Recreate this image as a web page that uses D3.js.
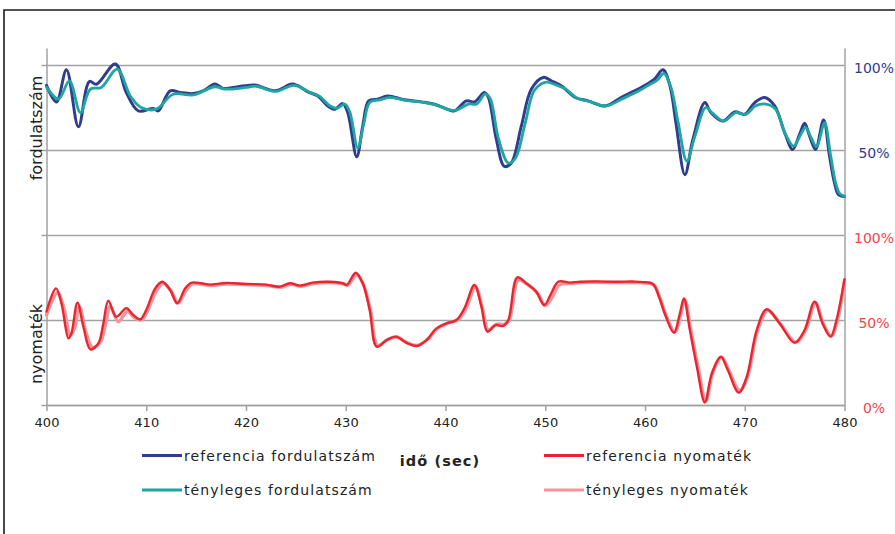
<!DOCTYPE html>
<html><head><meta charset="utf-8">
<script src="https://cdn.jsdelivr.net/npm/d3@7"></script>
<style>body{margin:0;background:#fff}svg{display:block}</style></head>
<body><svg id="c" width="895" height="534"></svg>
<script>
// ---------- data ----------
const xTicks = [400, 410, 420, 430, 440, 450, 460, 470, 480];
const speedTickValues = [100, 50];
const speedTickLabels = ["100%", "50%"];
const torqueTickValues = [100, 50, 0];
const torqueTickLabels = ["100%", "50%", "0%"];

const refSpeedT = [400,401.0,402.0,403.2,404.3,405.0,406.9,408.0,409.2,410.7,411.2,412.4,413.4,414.7,415.7,416.9,417.7,418.7,419.9,420.9,422.9,424.6,425.2,426.2,427.2,428.2,428.9,429.7,430.2,431.1,431.7,432.3,433.2,434.2,435.9,437.6,438.9,440.4,440.9,442.1,442.9,443.9,444.3,445.1,445.9,446.6,447.6,448.6,449.8,450.6,451.6,453.0,454.3,456.0,457.6,459.3,460.0,461.0,461.8,462.5,463.1,464.0,464.8,466.0,466.6,467.8,469.0,470.0,471.0,472.0,473.0,474.0,474.8,475.5,476.0,476.5,477.1,477.9,478.5,479.0,479.4,480.0];
const refSpeedV = [88,78.3,97.2,63.7,90.3,88.7,100.6,83.8,73,74.4,73,84.8,83.8,83.2,84.8,88.8,86.2,86.8,87.8,88.2,84.8,88.8,87.8,84.2,81.8,75.9,74,77.3,72,46,64,78.9,79.9,81.8,79.5,78.3,76.9,73.5,73,78.9,78.3,83.8,80.9,56.2,40.4,42.4,64,85.8,92.7,90.7,87.8,80.9,78.9,75.9,80.9,85.8,88,92,97.2,87.8,66.1,35.5,56.2,77.9,72,67,72.4,71,77.9,80.9,75.9,60.2,50.3,59.2,65.7,58.2,50.3,67.6,46.3,30.6,23.7,22.7];

const actSpeedT = [400,401.2,402.3,403.4,404.4,405.5,407.1,408.4,409.5,411.0,412.7,414.7,416.9,417.9,420.0,421.0,423.0,424.8,426.4,427.4,428.4,429.1,429.9,430.4,431.2,431.8,432.4,433.4,434.4,436.0,437.8,439.0,440.5,441.1,442.3,443.1,444.0,444.5,445.3,446.3,447.0,448.0,448.9,450.0,451.0,452.0,453.2,454.5,456.1,457.7,459.4,460.6,461.2,461.9,462.6,463.3,464.2,465.0,466.1,466.8,467.9,469.1,470.1,471.1,472.1,473.1,474.1,474.9,475.6,476.1,476.6,477.2,478.0,478.6,479.1,479.5,480.0];
const actSpeedV = [87,80,90.7,72,85.8,86.8,97.6,81.8,75,74,82.8,82.4,87.2,85.8,86.8,87.5,84.5,88,84,81.5,76,74.5,77,72.5,51.3,65,78,79.5,81,79.2,78,76.5,73.5,73.5,77,77,83,80,57,42.4,45,66,85,89.8,88.5,86,80.5,78.5,75.9,80,84.8,89,91,95,87,67,43.4,58,75,71.5,67,72,71,76,77,74,59,52.3,59,63.3,58,52,66,47,31,24.5,22.7];

const refTorqueT = [400,400.95,401.5,402.2,402.5,403.1,403.7,404.4,405.2,405.7,406.2,407.0,408.0,408.7,409.4,410.0,410.9,411.6,412.4,413.1,413.9,414.5,415.5,416.4,418,420,422,423.4,424.4,425.4,426.7,428.4,429.7,430.1,431.0,431.7,432.4,433.1,434.1,435.0,436.1,437.1,438.1,439.1,440.1,441.1,441.9,442.9,443.6,444.2,445.0,445.8,446.3,447.2,448.1,449.1,449.9,450.6,451.3,452.5,453.5,455,457,459,459.8,460.8,461.4,462.1,462.9,463.5,463.9,464.5,465.2,466.0,466.7,467.6,468.3,469.4,470.2,471.2,472.2,473.5,475.0,476.0,477.0,477.8,478.6,479.2,480.0];
const refTorqueV = [55,68.6,59.8,39.2,42.2,60.2,46,32.7,36.3,48,61.4,51.9,56.9,52.9,50.4,55.9,68.6,72.5,67.6,59.8,68.6,71.9,71.6,70.8,71.8,71.2,70.8,69.6,71.6,70.2,72,72.5,71.6,70.6,77.8,71.6,55.9,34.3,38.2,40.2,36.6,34.7,38.2,45.1,48,50,56.9,70.6,57.8,43.1,47,46.5,50,75.1,71.6,66.6,58.8,65.7,72.5,72,72.5,72.7,72.5,72.6,72.3,71.2,63.7,51.9,42.5,53.9,62.7,44.1,22.5,1.5,18.6,28.4,20.6,7.3,16.6,44.1,56.3,48,36.6,44.1,60.8,48,40.2,50,74];

const actTorqueT = [400,401.1,401.7,402.4,402.8,403.3,403.9,404.6,405.4,405.9,406.4,407.2,408.1,408.8,409.5,410.1,411.0,411.7,412.5,413.2,414.0,414.6,415.5,416.5,418,420,422,423.5,424.5,425.5,426.8,428.5,429.8,430.2,431.1,431.8,432.5,433.2,434.2,435.1,436.2,437.2,438.2,439.2,440.2,441.2,442.0,443.0,443.7,444.3,445.1,445.9,446.4,447.3,448.2,449.2,450.0,450.7,451.4,452.6,453.6,455,457,459,459.9,460.9,461.5,462.2,463.0,463.6,464.0,464.6,465.3,466.1,466.8,467.7,468.4,469.5,470.3,471.3,472.3,473.6,475.1,476.1,477.1,477.9,478.7,479.3,480.0];
const actTorqueV = [53,66,58,41,45,58,44,34,37,47,58,49,55,51.5,50,55,67,71.5,67,60,67.5,71.2,71,70.3,71.2,70.8,70.3,69.3,71,69.8,71.5,72,71.2,70.5,76.5,70.5,55,35,38.5,40,36.5,35,38.5,45,48,50,56,69.5,57,44,47.5,47.5,50,73.5,71,66,58.5,63.5,70.5,71.5,72,72.2,72,72,71.8,70.5,63,51.5,43,53.5,62,44,23,2.5,19,28,20.5,8.5,17,44,55.5,47.5,37,44,60,47.5,40.5,50,73];

const legendLabels = ["referencia fordulatszám", "referencia nyomaték", "tényleges fordulatszám", "tényleges nyomaték"];
const seriesColors = ["#2f3d8e", "#e8262f", "#1fa5a2", "#f3939b"];
const xTitle = "idő (sec)";
const speedTitle = "fordulatszám";
const torqueTitle = "nyomaték";

// ---------- layout ----------
const L = 46.5, R = 844.5, B = 405, T = 48;
const svg = d3.select("#c");
const x = d3.scaleLinear().domain([400, 480]).range([L, R]);
const yTorque = d3.scaleLinear().domain([0, 210]).range([B, T]);
const ySpeed = d3.scaleLinear().domain([-100, 110]).range([B, T]);
const gridColor = "#a2a2a2";
const textColor = "#222";

// frame
svg.append("path").attr("d", "M4,534V10H895").attr("fill", "none")
  .attr("stroke", "#1c1c1c").attr("stroke-width", 1.6);

// gridlines (left axis with outward ticks)
const grid = svg.append("g").attr("transform", `translate(${L},0)`)
  .call(d3.axisLeft(yTorque).tickValues([0, 50, 100, 150, 200]).tickSize(-(R - L)).tickSizeOuter(0).tickFormat(""));
grid.select(".domain").attr("stroke", gridColor).attr("stroke-width", 1.5);
grid.selectAll(".tick line").attr("x1", -5).attr("stroke", gridColor).attr("stroke-width", 1.5);

// right axis
const rightAx = svg.append("g").attr("transform", `translate(${R},0)`)
  .call(d3.axisRight(yTorque).tickValues([]).tickSizeOuter(0));
rightAx.select(".domain").attr("stroke", gridColor).attr("stroke-width", 1.5);

// right labels
const rLabels = speedTickValues.map((v, i) => ({y: ySpeed(v), t: speedTickLabels[i], c: "#2f3d8e"}))
  .concat(torqueTickValues.map((v, i) => ({y: yTorque(v), t: torqueTickLabels[i], c: "#f0444e"})));
svg.append("g").selectAll("text").data(rLabels).join("text")
  .attr("x", 874).attr("y", d => d.y + 8).attr("text-anchor", "middle")
  .attr("font-family", "DejaVu Sans, sans-serif").attr("font-size", 14)
  .attr("fill", d => d.c).text(d => d.t);

// x axis
const xa = svg.append("g").attr("transform", `translate(0,${B})`)
  .call(d3.axisBottom(x).tickValues(xTicks).tickSize(6).tickSizeOuter(0).tickPadding(7));
xa.select(".domain").attr("stroke", gridColor).attr("stroke-width", 1.5);
xa.selectAll(".tick line").attr("stroke", gridColor).attr("stroke-width", 1.5);
xa.selectAll(".tick text").attr("font-family", "DejaVu Sans, sans-serif").attr("font-size", 13).attr("fill", textColor);

// series (drawing order: ref speed, act speed, act torque, ref torque)
const speedLine = d3.line().x(d => x(d[0])).y(d => ySpeed(d[1])).curve(d3.curveCatmullRom.alpha(0.5));
const torqueLine = d3.line().x(d => x(d[0])).y(d => yTorque(d[1])).curve(d3.curveCatmullRom.alpha(0.5));
const zip = (a, b) => a.map((t, i) => [t, b[i]]);
const series = [
  {d: zip(refSpeedT, refSpeedV), gen: speedLine, c: seriesColors[0], w: 3},
  {d: zip(actSpeedT, actSpeedV), gen: speedLine, c: seriesColors[2], w: 2.8},
  {d: zip(actTorqueT, actTorqueV), gen: torqueLine, c: seriesColors[3], w: 3.4},
  {d: zip(refTorqueT, refTorqueV), gen: torqueLine, c: seriesColors[1], w: 2.4}
];
svg.append("g").selectAll("path").data(series).join("path")
  .attr("d", s => s.gen(s.d)).attr("fill", "none").attr("stroke", s => s.c)
  .attr("stroke-width", s => s.w).attr("stroke-linejoin", "round").attr("stroke-linecap", "round");

// axis titles
svg.append("text").attr("transform", "translate(42,128) rotate(-90)").attr("text-anchor", "middle")
  .attr("font-family", "DejaVu Sans, sans-serif").attr("font-size", 16).attr("fill", textColor).text(speedTitle);
svg.append("text").attr("transform", "translate(42,344) rotate(-90)").attr("text-anchor", "middle")
  .attr("font-family", "DejaVu Sans, sans-serif").attr("font-size", 16).attr("fill", textColor).text(torqueTitle);
svg.append("text").attr("x", 440).attr("y", 466).attr("text-anchor", "middle")
  .attr("font-family", "DejaVu Sans, sans-serif").attr("font-weight", "bold").attr("font-size", 14.5)
  .attr("letter-spacing", 1.1).attr("fill", textColor).text(xTitle);

// legend
const legPos = [[142, 455.5], [544, 455.5], [142, 490], [544, 490]];
const leg = svg.append("g").selectAll("g").data(legendLabels).join("g")
  .attr("transform", (d, i) => `translate(${legPos[i][0]},${legPos[i][1]})`);
leg.append("line").attr("x1", 0).attr("x2", 40).attr("stroke", (d, i) => seriesColors[i]).attr("stroke-width", 3);
leg.append("text").attr("x", 42).attr("y", 5).attr("font-family", "DejaVu Sans, sans-serif")
  .attr("font-size", 14).attr("letter-spacing", 1.1).attr("fill", textColor).text(d => d);
</script></body></html>
